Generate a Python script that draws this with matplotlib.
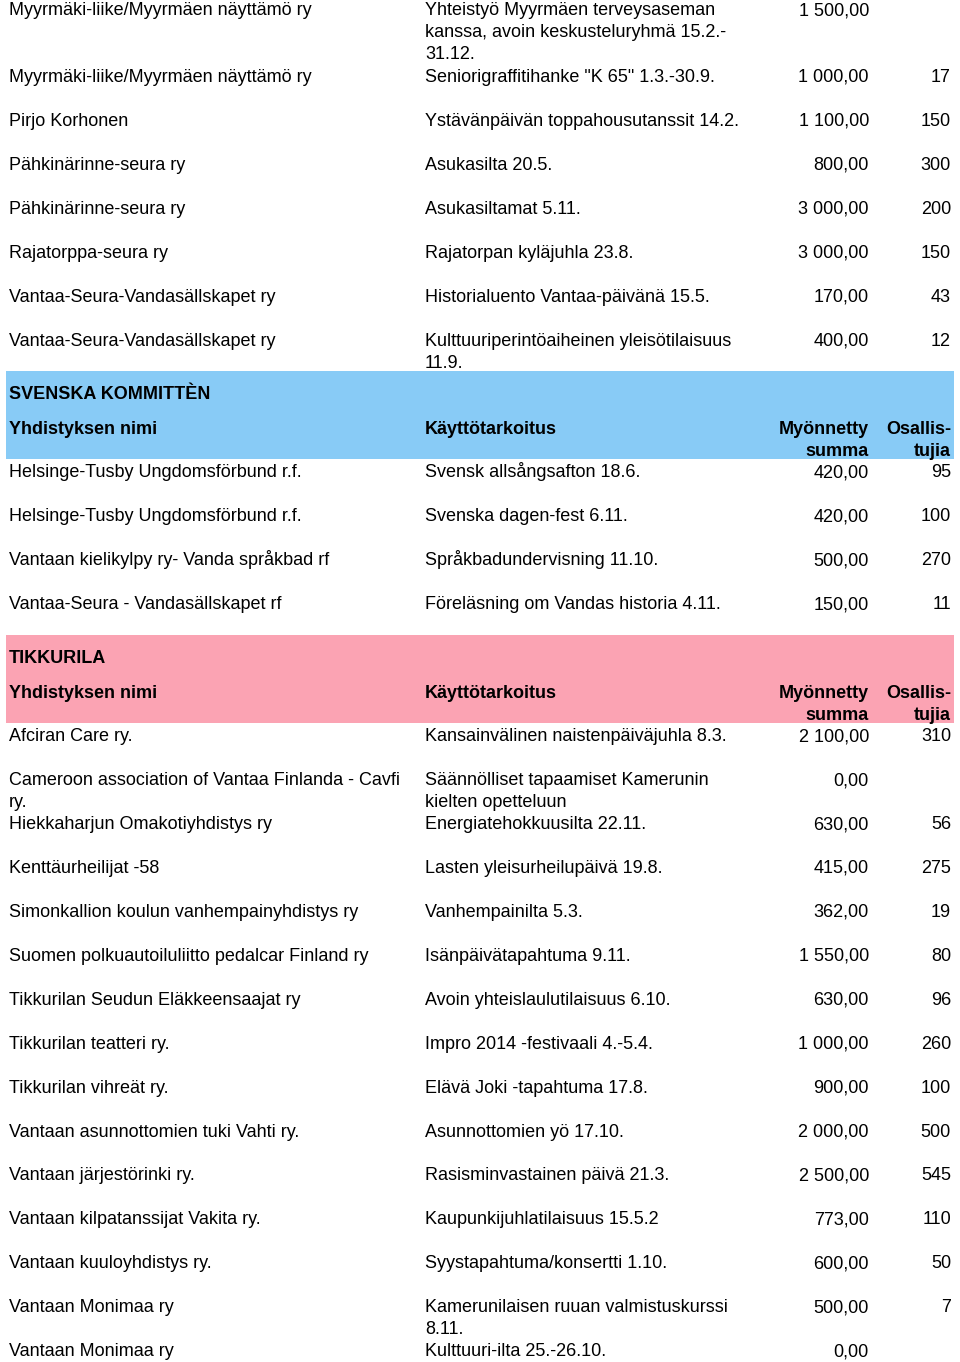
import matplotlib
matplotlib.use("Agg")
import matplotlib.pyplot as plt
from matplotlib.patches import Rectangle

# ---------------- data ----------------
section_titles = [None, "SVENSKA KOMMITTÈN", "TIKKURILA"]
section_sizes = [8, 4, 15]
column_headers = ["Yhdistyksen nimi", "Käyttötarkoitus", "Myönnetty\nsumma", "Osallis-\ntujia"]

organisations = [
    "Myyrmäki-liike/Myyrmäen näyttämö ry",
    "Myyrmäki-liike/Myyrmäen näyttämö ry",
    "Pirjo Korhonen",
    "Pähkinärinne-seura ry",
    "Pähkinärinne-seura ry",
    "Rajatorppa-seura ry",
    "Vantaa-Seura-Vandasällskapet ry",
    "Vantaa-Seura-Vandasällskapet ry",
    "Helsinge-Tusby Ungdomsförbund r.f.",
    "Helsinge-Tusby Ungdomsförbund r.f.",
    "Vantaan kielikylpy ry- Vanda språkbad rf",
    "Vantaa-Seura - Vandasällskapet rf",
    "Afciran Care ry.",
    "Cameroon association of Vantaa Finlanda - Cavfi\nry.",
    "Hiekkaharjun Omakotiyhdistys ry",
    "Kenttäurheilijat -58",
    "Simonkallion koulun vanhempainyhdistys ry",
    "Suomen polkuautoiluliitto pedalcar Finland ry",
    "Tikkurilan Seudun Eläkkeensaajat ry",
    "Tikkurilan teatteri ry.",
    "Tikkurilan vihreät ry.",
    "Vantaan asunnottomien tuki Vahti ry.",
    "Vantaan järjestörinki ry.",
    "Vantaan kilpatanssijat Vakita ry.",
    "Vantaan kuuloyhdistys ry.",
    "Vantaan Monimaa ry",
    "Vantaan Monimaa ry",
]

purposes = [
    "Yhteistyö Myyrmäen terveysaseman\nkanssa, avoin keskusteluryhmä 15.2.-\n31.12.",
    'Seniorigraffitihanke "K 65" 1.3.-30.9.',
    "Ystävänpäivän toppahousutanssit 14.2.",
    "Asukasilta 20.5.",
    "Asukasiltamat 5.11.",
    "Rajatorpan kyläjuhla 23.8.",
    "Historialuento Vantaa-päivänä 15.5.",
    "Kulttuuriperintöaiheinen yleisötilaisuus\n11.9.",
    "Svensk allsångsafton 18.6.",
    "Svenska dagen-fest 6.11.",
    "Språkbadundervisning 11.10.",
    "Föreläsning om Vandas historia 4.11.",
    "Kansainvälinen naistenpäiväjuhla 8.3.",
    "Säännölliset tapaamiset Kamerunin\nkielten opetteluun",
    "Energiatehokkuusilta 22.11.",
    "Lasten yleisurheilupäivä 19.8.",
    "Vanhempainilta 5.3.",
    "Isänpäivätapahtuma 9.11.",
    "Avoin yhteislaulutilaisuus 6.10.",
    "Impro 2014 -festivaali 4.-5.4.",
    "Elävä Joki -tapahtuma 17.8.",
    "Asunnottomien yö 17.10.",
    "Rasisminvastainen päivä 21.3.",
    "Kaupunkijuhlatilaisuus 15.5.2",
    "Syystapahtuma/konsertti 1.10.",
    "Kamerunilaisen ruuan valmistuskurssi\n8.11.",
    "Kulttuuri-ilta 25.-26.10.",
]

amounts = [1500, 1000, 1100, 800, 3000, 3000, 170, 400,
           420, 420, 500, 150,
           2100, 0, 630, 415, 362, 1550, 630, 1000, 900, 2000, 2500, 773, 600, 500, 0]

participants = [None, 17, 150, 300, 200, 150, 43, 12,
                95, 100, 270, 11,
                310, None, 56, 275, 19, 80, 96, 260, 100, 500, 545, 110, 50, 7, None]

# ---------------- layout / style ----------------
W, H = 960, 1362
FONT = ["Liberation Sans", "DejaVu Sans"]
FS = 13.0
X_ORG, X_PUR, X_AMT, X_PAR = 9, 425, 869, 951
LINE = 22          # wrapped line pitch
ROW = 43.93        # data row pitch
BAND_ROW = 44      # band row pitch
BASE = 18          # baseline offset from row top
BAND_X0, BAND_X1 = 6, 954
band_colors = {"SVENSKA KOMMITTÈN": "#88CBF6", "TIKKURILA": "#FBA3B3"}

fig = plt.figure(figsize=(W / 100, H / 100), dpi=100)
ax = fig.add_axes([0, 0, 1, 1])
ax.set_xlim(0, W)
ax.set_ylim(H, 0)
ax.axis("off")


def fmt_amount(v):
    s = f"{v:,.2f}"
    return s.replace(",", " ").replace(".", ",")


def cell(x, y, text, ha, bold=False):
    for k, line in enumerate(text.split("\n")):
        ax.text(x, y + k * LINE, line, ha=ha, va="baseline", fontsize=FS,
                family=FONT, fontweight="bold" if bold else "normal",
                color="black")


y = -3
i = 0
for title, size in zip(section_titles, section_sizes):
    if title is not None:
        ax.add_patch(Rectangle((BAND_X0, y), BAND_X1 - BAND_X0, 2 * BAND_ROW,
                               facecolor=band_colors[title], edgecolor="none", zorder=0))
        cell(X_ORG, y + 28, title, "left", bold=True)
        hy = y + BAND_ROW + BASE + 1
        cell(X_ORG, hy, column_headers[0], "left", bold=True)
        cell(X_PUR, hy, column_headers[1], "left", bold=True)
        cell(X_AMT, hy, column_headers[2], "right", bold=True)
        cell(X_PAR, hy, column_headers[3], "right", bold=True)
        y += 2 * BAND_ROW
    for _ in range(size):
        by = y + BASE
        cell(X_ORG, by, organisations[i], "left")
        cell(X_PUR, by, purposes[i], "left")
        cell(X_AMT, by, fmt_amount(amounts[i]), "right")
        if participants[i] is not None:
            cell(X_PAR, by, str(participants[i]), "right")
        n = max(organisations[i].count("\n"), purposes[i].count("\n")) + 1
        y += ROW if n <= 2 else ROW + LINE * (n - 2) + 1
        i += 1

fig.savefig("out.png", dpi=100)
